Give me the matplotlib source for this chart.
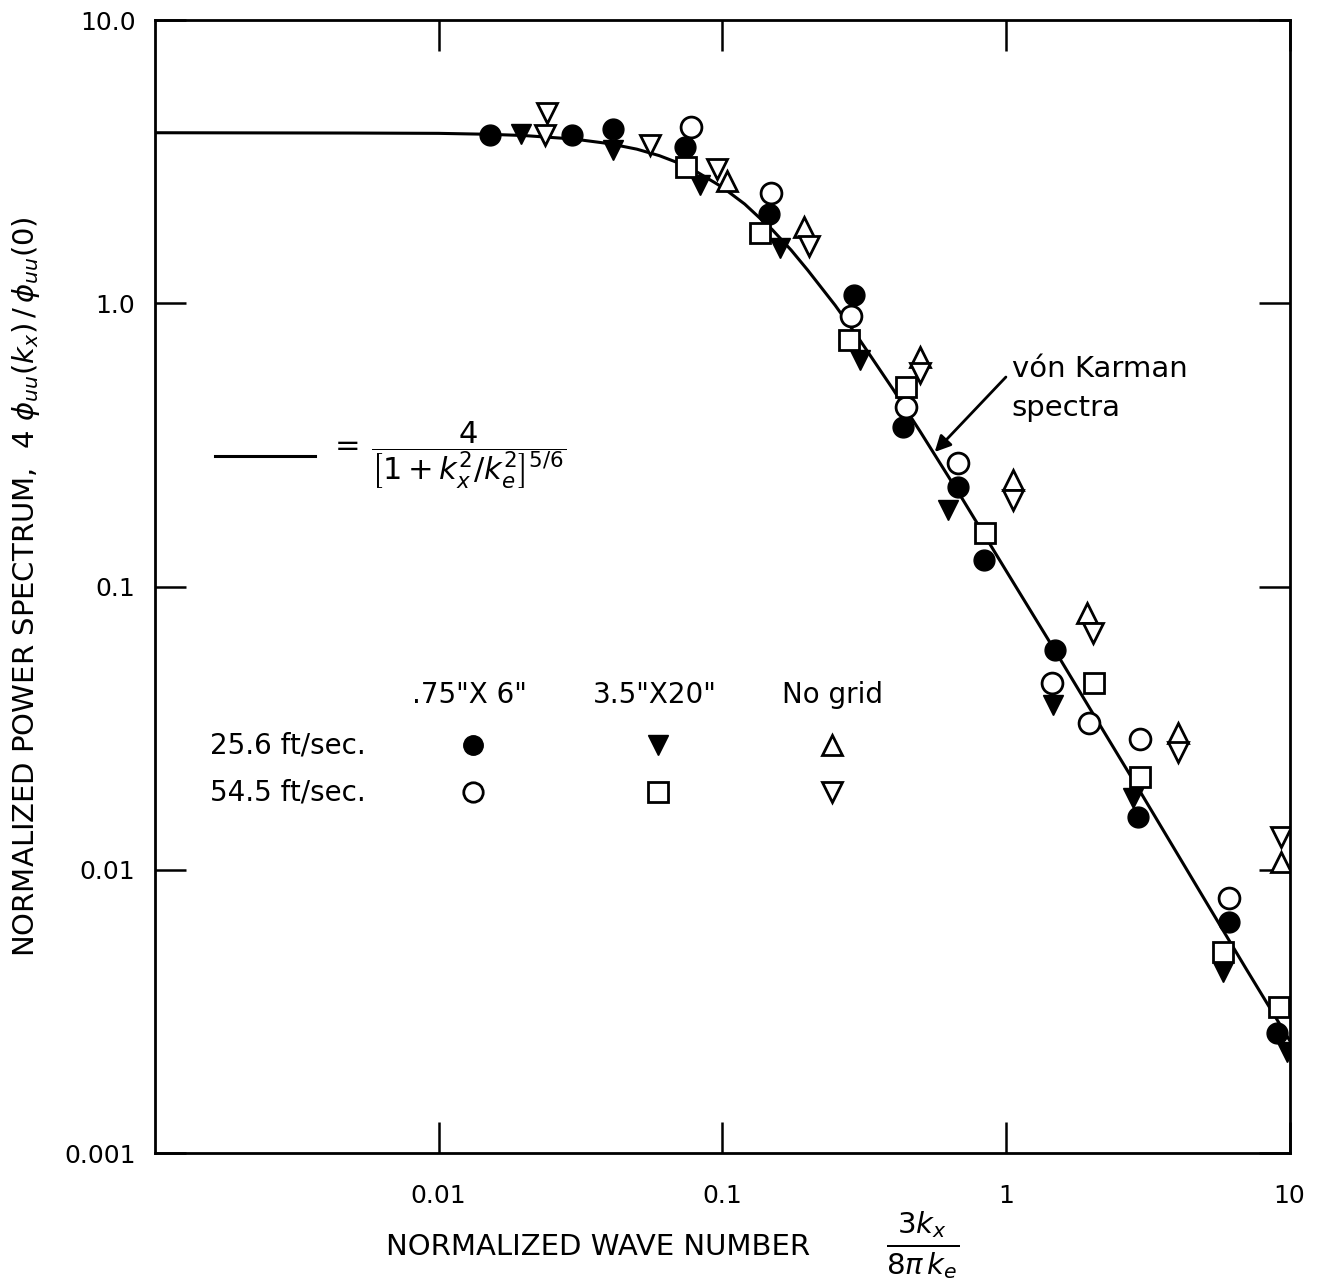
import matplotlib
matplotlib.use("Agg")
import matplotlib.pyplot as plt

# von Karman curve
curve_x = [0.001, 0.005, 0.01, 0.015, 0.02, 0.03, 0.04, 0.05, 0.06, 0.07, 0.08, 0.1,
           0.12, 0.15, 0.175, 0.2, 0.25, 0.3, 0.4, 0.5, 0.7,
           1.0, 1.5, 2.0, 3.0, 5.0, 7.0, 10.0]
curve_y = [4.0, 3.99, 3.98, 3.95, 3.91, 3.80, 3.66, 3.50, 3.32, 3.13, 2.94, 2.57,
           2.24, 1.82, 1.54, 1.31, 0.984, 0.762, 0.497, 0.351, 0.205,
           0.114, 0.0587, 0.0364, 0.0186, 0.0079, 0.0045, 0.0025]

# 25.6 ft/sec, .75" x 6" grid (filled circles)
fc_x = [0.0152, 0.0295, 0.0411, 0.0738, 0.146, 0.291, 0.433, 0.676, 0.84, 1.486, 2.93, 6.10, 9.0]
fc_y = [3.93, 3.93, 4.12, 3.56, 2.07, 1.07, 0.366, 0.2245, 0.124, 0.0597, 0.01535, 0.00654, 0.00265]

# 54.5 ft/sec, .75" x 6" grid (open circles)
oc_x = [0.0774, 0.149, 0.285, 0.443, 0.676, 1.45, 1.96, 2.96, 6.10]
oc_y = [4.19, 2.45, 0.902, 0.430, 0.273, 0.0456, 0.033, 0.029, 0.00794]

# 25.6 ft/sec, 3.5" x 20" grid (filled down triangles)
ft_x = [0.0196, 0.0411, 0.0834, 0.1595, 0.305, 0.624, 1.47, 2.80, 5.81, 9.76]
ft_y = [3.95, 3.48, 2.61, 1.57, 0.631, 0.186, 0.0382, 0.0179, 0.00435, 0.00227]

# 54.5 ft/sec, 3.5" x 20" grid (open squares)
sq_x = [0.0748, 0.1356, 0.28, 0.443, 0.841, 2.04, 2.97, 5.81, 9.15]
sq_y = [3.03, 1.77, 0.741, 0.506, 0.1545, 0.0456, 0.0212, 0.00513, 0.00328]

# 25.6 ft/sec, no grid (open up triangles)
ut_x = [0.1037, 0.194, 0.497, 1.056, 1.93, 4.03, 9.29]
ut_y = [2.70, 1.86, 0.646, 0.2377, 0.0806, 0.0304, 0.01065]

# 54.5 ft/sec, no grid (open down triangles)
dt_x = [0.0241, 0.0237, 0.0556, 0.0957, 0.202, 0.497, 1.056, 2.02, 4.03, 9.29]
dt_y = [4.70, 3.93, 3.62, 2.98, 1.59, 0.567, 0.202, 0.0685, 0.0261, 0.01305]

y_ticks = [0.001, 0.01, 0.1, 1.0, 10.0]
y_labels = ['0.001', '0.01', '0.1', '1.0', '10.0']
x_ticks = [0.01, 0.1, 1, 10]
x_labels = ['0.01', '0.1', '1', '10']

plt.rcParams['font.family'] = ['DejaVu Sans']
plt.rcParams['mathtext.fontset'] = 'dejavusans'

fig = plt.figure(figsize=(13.24, 12.83), dpi=100)
ax = fig.add_axes([0.117, 0.1013, 0.857, 0.8831])
ax.set_xscale('log')
ax.set_yscale('log')
ax.set_xlim(0.001, 10)
ax.set_ylim(0.001, 10)

ax.plot(curve_x, curve_y, '-', color='black', lw=2.2, zorder=2)

ms = 15
ax.plot(fc_x, fc_y, 'o', ms=ms, mfc='black', mec='black', zorder=3)
ax.plot(oc_x, oc_y, 'o', ms=ms, mfc='white', mec='black', mew=2, zorder=3)
ax.plot(ft_x, ft_y, 'v', ms=ms, mfc='black', mec='black', zorder=3)
ax.plot(sq_x, sq_y, 's', ms=ms, mfc='white', mec='black', mew=2, zorder=3)
ax.plot(ut_x, ut_y, '^', ms=ms, mfc='white', mec='black', mew=2, zorder=3)
ax.plot(dt_x, dt_y, 'v', ms=ms, mfc='white', mec='black', mew=2, zorder=3)

ax.set_xticks(x_ticks)
ax.set_xticklabels(x_labels)
ax.set_yticks(y_ticks)
ax.set_yticklabels(y_labels)
ax.minorticks_off()
ax.tick_params(which='major', direction='in', length=22, width=1.8,
               top=True, right=True, labelsize=18, pad=14)
ax.tick_params(axis='x', pad=22)
for s in ax.spines.values():
    s.set_linewidth(2)

# x axis title, placed by hand so the fraction fits
fig.text(0.452, 0.028, 'NORMALIZED WAVE NUMBER', fontsize=21, ha='center', va='center')
fig.text(0.697, 0.030, '$\\frac{3k_x}{8\\pi\\, k_e}$', fontsize=30, ha='center', va='center')
ax.set_ylabel('NORMALIZED POWER SPECTRUM,  $4\\ \\phi_{uu}(k_x)\\,/\\,\\phi_{uu}(0)$',
              fontsize=21, labelpad=16)

# formula key
ax.plot([0.00163, 0.00366], [0.29, 0.29], '-', color='black', lw=2.2)
ax.text(0.0041, 0.29, '$=\\,\\dfrac{4}{\\left[1+k_x^{2}/k_e^{2}\\right]^{5/6}}$',
        fontsize=22, ha='left', va='center')

# annotation
ax.text(1.048, 0.656, 'vón Karman\nspectra', fontsize=21, ha='left', va='top',
        linespacing=1.5)
ax.annotate('', xy=(0.561, 0.2985), xytext=(1.0, 0.549),
            arrowprops=dict(arrowstyle='-|>', color='black', lw=2, mutation_scale=24,
                            shrinkA=0, shrinkB=0))

# legend drawn as a table
ax.text(0.0128, 0.0414, '.75"X 6"', fontsize=20, ha='center', va='center')
ax.text(0.0579, 0.0414, '3.5"X20"', fontsize=20, ha='center', va='center')
ax.text(0.245, 0.0414, 'No grid', fontsize=20, ha='center', va='center')
ax.text(0.00156, 0.0275, '25.6 ft/sec.', fontsize=20, ha='left', va='center')
ax.text(0.00156, 0.0188, '54.5 ft/sec.', fontsize=20, ha='left', va='center')
lms = 14
ax.plot([0.0132], [0.0275], 'o', ms=lms, mfc='black', mec='black')
ax.plot([0.0132], [0.0188], 'o', ms=lms, mfc='white', mec='black', mew=2)
ax.plot([0.0593], [0.0275], 'v', ms=lms, mfc='black', mec='black')
ax.plot([0.0593], [0.0188], 's', ms=lms, mfc='white', mec='black', mew=2)
ax.plot([0.243], [0.0275], '^', ms=lms, mfc='white', mec='black', mew=2)
ax.plot([0.243], [0.0188], 'v', ms=lms, mfc='white', mec='black', mew=2)

fig.savefig('out.png', dpi=100)
